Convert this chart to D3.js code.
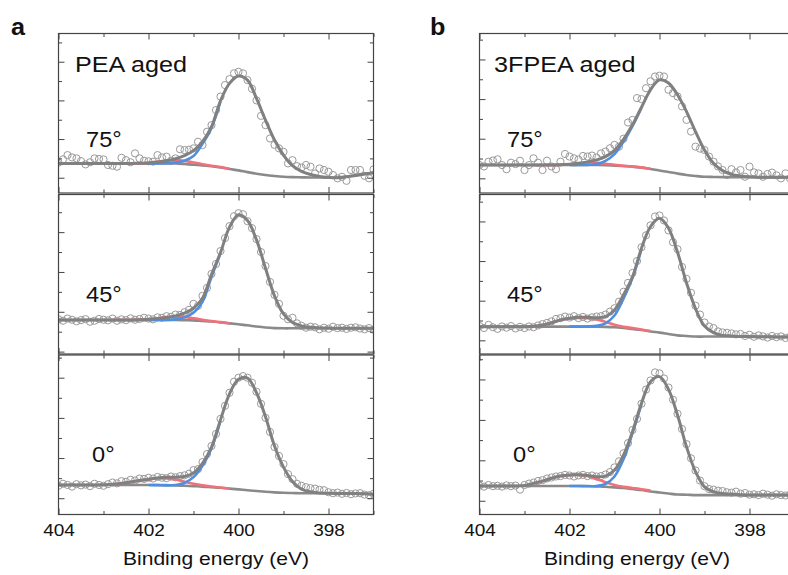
<!DOCTYPE html>
<html>
<head>
<meta charset="utf-8">
<script src="https://cdn.jsdelivr.net/npm/d3@7"></script>
<style>
  body { margin: 0; background: #fff; }
  svg { display: block; font-family: "Liberation Sans", Arial, sans-serif; }
</style>
</head>
<body>
<svg width="788" height="575"></svg>
<script>
// binding energies of the measured points (eV)
const ENERGY = [
  404.0,403.9,403.8,403.7,403.6,403.5,403.4,403.3,403.2,403.1,
  403.0,402.9,402.8,402.7,402.6,402.5,402.4,402.3,402.2,402.1,
  402.0,401.9,401.8,401.7,401.6,401.5,401.4,401.3,401.2,401.1,
  401.0,400.9,400.8,400.7,400.6,400.5,400.4,400.3,400.2,400.1,
  400.0,399.9,399.8,399.7,399.6,399.5,399.4,399.3,399.2,399.1,
  399.0,398.9,398.8,398.7,398.6,398.5,398.4,398.3,398.2,398.1,
  398.0,397.9,397.8,397.7,397.6,397.5,397.4,397.3,397.2,397.1,
  397.0];
// energies where the fitted envelope and background were read
const FIT_E = [404.0,403.8,403.6,403.4,403.2,403.0,402.8,402.6,402.4,402.2,402.0,401.8,
  401.6,401.4,401.2,401.0,400.8,400.6,400.4,400.2,400.0,399.8,399.6,399.4,399.2,399.0,
  398.8,398.6,398.4,398.2,398.0,397.8,397.6,397.4,397.2,397.0];
// energies of the visible parts of the two components
const RED_E = [402.8,402.6,402.4,402.2,402.0,401.8,401.6,401.4,401.2,401.0,400.8,400.6,400.4,400.2];
const BLUE_E = [402.0,401.8,401.6,401.4,401.2,401.0,400.8,400.6,400.4];

const X_MAJOR = [404, 402, 400, 398];
const X_MINOR = [403, 401, 399, 397];
const COLUMN_LETTERS = ["a", "b"];
const SAMPLE_NAMES = ["PEA aged", "3FPEA aged"];
const ANGLES = ["75°", "45°", "0°"];
const X_LABEL = "Binding energy (eV)";

// ---- PEA aged ----
const a75_data = [
  1.78,1.95,2.17,2.05,2.00,1.86,1.69,1.80,2.00,1.97,
  1.95,1.66,1.62,1.57,2.03,1.91,1.80,2.26,2.00,1.88,
  1.85,1.83,2.17,2.05,2.09,1.88,2.00,2.47,2.43,2.45,
  2.52,2.86,2.69,3.38,3.72,4.50,5.20,5.79,6.10,6.40,
  6.48,6.40,6.05,5.60,5.00,4.20,3.72,3.03,2.70,2.52,
  2.34,1.74,1.91,1.60,1.53,1.66,1.57,1.22,1.48,1.40,
  1.31,1.14,0.97,1.05,0.84,1.40,1.40,1.40,1.10,0.97,
  1.43];
const a75_fit = [1.74,1.74,1.74,1.74,1.74,1.74,1.74,1.74,1.74,1.75,1.76,1.81,1.88,1.98,2.14,2.40,2.86,3.64,
  4.98,5.88,6.26,6.05,5.10,3.98,2.95,2.17,1.62,1.33,1.17,1.07,1.02,1.00,1.05,1.12,1.19,1.26];
const a75_bg = [1.74,1.74,1.74,1.74,1.74,1.74,1.74,1.74,1.74,1.74,1.74,1.74,1.74,1.74,1.71,1.67,1.64,1.59,
  1.53,1.45,1.38,1.29,1.21,1.14,1.09,1.05,1.03,1.02,1.01,1.01,1.00,1.00,1.05,1.12,1.19,1.26];
const a75_red = [1.74,1.74,1.74,1.74,1.77,1.83,1.89,1.91,1.87,1.79,1.70,1.62,1.55,1.46];
const a75_blue = [1.74,1.74,1.75,1.78,1.88,2.12,2.75,3.58,4.93];

const a45_data = [
  1.62,1.55,1.66,1.60,1.52,1.58,1.63,1.50,1.55,1.64,
  1.60,1.57,1.66,1.55,1.62,1.58,1.67,1.60,1.64,1.70,
  1.66,1.62,1.72,1.70,1.78,1.75,1.86,1.84,1.98,2.10,
  2.40,2.30,2.80,3.20,3.90,4.40,5.05,5.70,6.30,6.80,
  6.95,6.90,6.55,6.20,5.65,5.00,4.30,3.50,2.85,2.40,
  1.80,1.62,1.70,1.42,1.30,1.20,1.25,1.22,1.12,1.20,
  1.15,1.25,1.18,1.20,1.14,1.20,1.22,1.16,1.12,1.18,
  1.10];
const a45_fit = [1.59,1.59,1.59,1.59,1.59,1.59,1.59,1.59,1.59,1.60,1.62,1.66,1.71,1.79,1.93,2.18,2.68,3.87,
  4.97,6.25,6.87,6.58,5.61,4.19,2.80,1.89,1.46,1.29,1.22,1.19,1.18,1.17,1.17,1.17,1.17,1.17];
const a45_bg = [1.59,1.59,1.59,1.59,1.59,1.59,1.59,1.59,1.59,1.59,1.59,1.59,1.59,1.59,1.58,1.57,1.54,1.51,
  1.47,1.42,1.37,1.32,1.26,1.21,1.18,1.17,1.17,1.17,1.17,1.17,1.17,1.17,1.17,1.17,1.17,1.17];
const a45_red = [1.59,1.59,1.59,1.60,1.62,1.67,1.73,1.76,1.73,1.67,1.60,1.53,1.48,1.42];
const a45_blue = [1.59,1.59,1.59,1.62,1.72,1.95,2.50,3.75,4.93];

const a0_data = [
  0.62,0.72,0.66,0.58,0.70,0.64,0.68,0.60,0.72,0.66,
  0.62,0.70,0.78,0.74,0.85,0.82,0.92,0.88,0.98,0.96,
  1.02,0.98,1.06,1.02,1.00,1.08,1.04,1.10,1.14,1.22,
  1.40,1.45,1.80,2.20,2.60,3.20,3.95,4.60,5.25,5.80,
  6.00,6.08,6.00,5.75,5.30,4.70,4.00,3.30,2.55,2.10,
  1.70,1.20,0.95,0.72,0.62,0.55,0.50,0.48,0.42,0.40,
  0.30,0.25,0.28,0.22,0.26,0.20,0.24,0.25,0.18,0.15,
  0.22];
const a0_fit = [0.66,0.66,0.66,0.66,0.66,0.67,0.69,0.74,0.81,0.88,0.95,1.01,1.04,1.05,1.08,1.26,1.74,2.55,
  3.90,5.20,5.92,5.98,5.25,4.06,2.60,1.55,0.83,0.45,0.32,0.26,0.25,0.24,0.24,0.23,0.22,0.20];
const a0_bg = [0.66,0.66,0.66,0.66,0.66,0.66,0.66,0.66,0.66,0.66,0.66,0.66,0.65,0.64,0.62,0.60,0.58,0.55,
  0.52,0.48,0.44,0.40,0.36,0.32,0.29,0.27,0.26,0.25,0.25,0.25,0.25,0.24,0.24,0.23,0.22,0.20];
const a0_red = [0.69,0.74,0.81,0.88,0.94,0.98,0.98,0.93,0.82,0.72,0.64,0.58,0.53,0.48];
const a0_blue = [0.66,0.65,0.64,0.66,0.76,1.05,1.62,2.48,3.85];

// ---- 3FPEA aged ----
const b75_data = [
  1.67,1.60,1.84,1.90,1.96,1.67,1.46,1.79,1.72,1.89,
  1.42,1.67,2.01,1.79,1.42,1.89,1.60,1.46,1.84,2.23,
  2.10,2.01,1.95,2.13,2.10,2.15,2.05,2.26,2.35,2.52,
  2.69,2.60,3.00,3.82,3.95,5.05,5.00,5.55,5.90,6.14,
  6.18,6.14,5.47,5.30,5.13,4.63,3.95,3.36,2.60,2.50,
  2.43,2.10,1.84,1.60,1.42,1.17,1.46,1.30,1.42,1.08,
  1.59,1.30,1.25,1.08,1.22,1.29,1.15,1.00,1.25,1.00,
  1.12];
const b75_fit = [1.67,1.67,1.67,1.67,1.67,1.67,1.67,1.67,1.67,1.69,1.71,1.76,1.83,1.93,2.10,2.40,2.97,3.70,
  4.59,5.47,5.97,5.81,5.22,4.37,3.36,2.43,1.76,1.39,1.20,1.12,1.08,1.06,1.05,1.05,1.05,1.05];
const b75_bg = [1.67,1.67,1.67,1.67,1.67,1.67,1.67,1.67,1.67,1.67,1.67,1.67,1.67,1.67,1.66,1.64,1.62,1.59,
  1.54,1.47,1.40,1.32,1.24,1.17,1.12,1.08,1.07,1.06,1.06,1.06,1.06,1.05,1.05,1.05,1.05,1.05];
const b75_red = [1.67,1.67,1.67,1.68,1.71,1.76,1.80,1.79,1.74,1.68,1.63,1.59,1.55,1.48];
const b75_blue = [1.67,1.67,1.68,1.72,1.88,2.22,2.85,3.64,4.55];

const b45_data = [
  0.72,0.62,0.78,0.66,0.58,0.70,0.64,0.72,0.60,0.68,
  0.62,0.70,0.66,0.75,0.82,0.88,0.96,1.08,1.12,1.20,
  1.15,1.22,1.12,1.18,1.10,1.16,1.20,1.22,1.30,1.45,
  1.62,1.95,2.45,2.90,3.40,4.00,4.70,5.30,5.80,6.25,
  6.30,6.05,5.55,4.95,4.60,3.70,3.10,2.40,1.75,1.30,
  0.90,0.70,0.62,0.45,0.40,0.38,0.35,0.30,0.32,0.22,
  0.28,0.18,0.25,0.20,0.14,0.22,0.16,0.20,0.12,0.18,
  0.15];
const b45_fit = [0.69,0.69,0.69,0.69,0.69,0.69,0.71,0.77,0.89,1.03,1.11,1.16,1.16,1.14,1.20,1.53,2.29,3.20,
  4.65,5.74,6.16,5.66,4.45,2.90,1.60,0.72,0.39,0.25,0.22,0.19,0.19,0.18,0.18,0.17,0.17,0.17];
const b45_bg = [0.69,0.69,0.69,0.69,0.69,0.69,0.69,0.69,0.69,0.69,0.69,0.69,0.69,0.69,0.68,0.66,0.62,0.57,
  0.52,0.45,0.39,0.32,0.25,0.22,0.19,0.19,0.19,0.19,0.19,0.19,0.19,0.18,0.18,0.17,0.17,0.17];
const b45_red = [0.69,0.77,0.89,1.03,1.10,1.13,1.12,1.05,0.93,0.79,0.68,0.62,0.55,0.47];
const b45_blue = [0.69,0.69,0.70,0.73,0.86,1.25,2.10,3.15,4.60];

const b0_data = [
  0.75,0.70,0.78,0.72,0.74,0.70,0.76,0.72,0.75,0.55,
  0.78,0.85,0.90,0.98,1.02,1.10,1.15,1.20,1.22,1.28,
  1.25,1.20,1.25,1.28,1.22,1.25,1.20,1.22,1.30,1.42,
  1.65,1.95,2.35,2.85,3.50,4.05,4.80,5.50,5.95,6.35,
  6.30,6.05,5.60,5.00,4.30,3.55,2.80,2.10,1.50,1.00,
  0.72,0.58,0.55,0.50,0.48,0.42,0.40,0.45,0.35,0.38,
  0.30,0.32,0.28,0.35,0.30,0.25,0.32,0.28,0.26,0.30,
  0.22];
const b0_fit = [0.73,0.73,0.73,0.73,0.73,0.76,0.86,0.97,1.11,1.22,1.27,1.29,1.25,1.19,1.22,1.52,2.26,3.42,
  4.82,5.89,6.14,5.51,4.24,2.67,1.44,0.69,0.45,0.36,0.33,0.30,0.28,0.28,0.28,0.28,0.28,0.28];
const b0_bg = [0.73,0.73,0.73,0.73,0.73,0.73,0.73,0.73,0.73,0.73,0.73,0.73,0.73,0.71,0.69,0.66,0.63,0.58,
  0.53,0.46,0.41,0.36,0.31,0.30,0.28,0.28,0.28,0.28,0.28,0.28,0.28,0.28,0.28,0.28,0.28,0.28];
const b0_red = [0.86,0.97,1.11,1.22,1.27,1.28,1.22,1.08,0.92,0.78,0.69,0.63,0.57,0.50];
const b0_blue = [0.73,0.73,0.72,0.73,0.83,1.20,2.05,3.35,4.78];

// intensity window of each panel (arbitrary units, ticks at whole units)
const PANELS = [
  {col: 0, row: 0, data: a75_data, fit: a75_fit, bg: a75_bg, red: a75_red, blue: a75_blue, yDomain: [0.21, 8.46]},
  {col: 0, row: 1, data: a45_data, fit: a45_fit, bg: a45_bg, red: a45_red, blue: a45_blue, yDomain: [-0.12, 7.89]},
  {col: 0, row: 2, data: a0_data, fit: a0_fit, bg: a0_bg, red: a0_red, blue: a0_blue, yDomain: [-0.81, 7.13]},
  {col: 1, row: 0, data: b75_data, fit: b75_fit, bg: b75_bg, red: b75_red, blue: b75_blue, yDomain: [0.26, 8.31]},
  {col: 1, row: 1, data: b45_data, fit: b45_fit, bg: b45_bg, red: b45_red, blue: b45_blue, yDomain: [-0.69, 7.36]},
  {col: 1, row: 2, data: b0_data, fit: b0_fit, bg: b0_bg, red: b0_red, blue: b0_blue, yDomain: [-0.68, 7.21]}
];

const PANEL_W = 315, PANEL_H = 159.5;
const COL_LEFT = [58.5, 479.5];
const ROW_TOP = [33.5, 194.5, 355];
const STRETCH = 1.12;   // the original lettering is a little wide

const svg = d3.select("svg");
const zip = (xs, ys) => xs.map((e, i) => [e, ys[i]]);

function addText(x, y, txt, size, opts = {}) {
  svg.append("text")
    .attr("transform", `translate(${x},${y}) scale(${opts.sx || STRETCH},1)`)
    .attr("font-size", size)
    .attr("font-weight", opts.bold ? "bold" : null)
    .attr("text-anchor", opts.anchor || "start")
    .attr("fill", "#111")
    .text(txt);
}

function styleAxis(g) {
  g.select(".domain").remove();
  g.selectAll("line").attr("stroke", "#444").attr("stroke-width", 1);
}

PANELS.forEach((p, i) => {
  const left = COL_LEFT[p.col], top = ROW_TOP[p.row];
  const x = d3.scaleLinear().domain([404, 397]).range([left, left + PANEL_W]);
  const y = d3.scaleLinear().domain(p.yDomain).range([top + PANEL_H, top]);

  svg.append("clipPath").attr("id", "clip" + i)
    .append("rect").attr("x", left).attr("y", top).attr("width", PANEL_W).attr("height", PANEL_H);

  const plot = svg.append("g").attr("clip-path", `url(#clip${i})`);

  plot.selectAll("circle")
    .data(zip(ENERGY, p.data))
    .join("circle")
      .attr("cx", d => x(d[0]))
      .attr("cy", d => y(d[1]))
      .attr("r", 3.6)
      .attr("fill", "none")
      .attr("stroke", "#9a9a9a")
      .attr("stroke-width", 1);

  const line = d3.line()
    .x(d => x(d[0]))
    .y(d => y(d[1]))
    .curve(d3.curveCatmullRom.alpha(0.5));

  plot.append("path").datum(zip(FIT_E, p.bg))
    .attr("d", line).attr("fill", "none").attr("stroke", "#8a8a8a").attr("stroke-width", 2.6);
  plot.append("path").datum(zip(RED_E, p.red))
    .attr("d", line).attr("fill", "none").attr("stroke", "#f27079").attr("stroke-width", 2.6);
  plot.append("path").datum(zip(BLUE_E, p.blue))
    .attr("d", line).attr("fill", "none").attr("stroke", "#4d8fe3").attr("stroke-width", 2.6);
  plot.append("path").datum(zip(FIT_E, p.fit))
    .attr("d", line).attr("fill", "none").attr("stroke", "#808080").attr("stroke-width", 3);

  // ticks, all pointing inwards
  const bottomRow = p.row === 2;
  const xb = svg.append("g").attr("transform", `translate(0,${top + PANEL_H})`)
    .call(d3.axisBottom(x).tickValues(X_MAJOR).tickSize(-6).tickPadding(9)
      .tickFormat(bottomRow ? d3.format("d") : () => ""));
  styleAxis(xb);
  xb.selectAll("text")
    .attr("font-family", '"Liberation Sans", Arial, sans-serif')
    .attr("font-size", 17).attr("fill", "#111")
    .attr("transform", `scale(${STRETCH},1)`);
  styleAxis(svg.append("g").attr("transform", `translate(0,${top + PANEL_H})`)
    .call(d3.axisBottom(x).tickValues(X_MINOR).tickSize(-3.5).tickFormat(() => "")));
  styleAxis(svg.append("g").attr("transform", `translate(0,${top})`)
    .call(d3.axisTop(x).tickValues(X_MAJOR).tickSize(-6).tickFormat(() => "")));
  styleAxis(svg.append("g").attr("transform", `translate(0,${top})`)
    .call(d3.axisTop(x).tickValues(X_MINOR).tickSize(-3.5).tickFormat(() => "")));

  const first = Math.ceil(p.yDomain[0]);
  const yTicks = d3.range(first, p.yDomain[1], 1);
  const yMajor = yTicks.filter(v => (v - first) % 2 === 0);
  const yMinor = yTicks.filter(v => (v - first) % 2 !== 0);
  [[yMajor, -6], [yMinor, -3.5]].forEach(([vals, len]) => {
    styleAxis(svg.append("g").attr("transform", `translate(${left},0)`)
      .call(d3.axisLeft(y).tickValues(vals).tickSize(len).tickFormat(() => "")));
    styleAxis(svg.append("g").attr("transform", `translate(${left + PANEL_W},0)`)
      .call(d3.axisRight(y).tickValues(vals).tickSize(len).tickFormat(() => "")));
  });

  svg.append("rect")
    .attr("x", left).attr("y", top).attr("width", PANEL_W).attr("height", PANEL_H)
    .attr("fill", "none").attr("stroke", "#444").attr("stroke-width", 1.2);
});

// panel letters, sample names, angles, axis titles
addText(11, 35, COLUMN_LETTERS[0], 24, {bold: true, sx: 1.05});
addText(430, 35, COLUMN_LETTERS[1], 24, {bold: true, sx: 1.05});
addText(75, 72, SAMPLE_NAMES[0], 22.5);
addText(494, 72, SAMPLE_NAMES[1], 22.5);

const ANGLE_POS = [[86, 147], [86, 302], [92, 462]];
[0, 1].forEach(c => {
  ANGLES.forEach((a, r) => {
    addText(ANGLE_POS[r][0] + COL_LEFT[c] - COL_LEFT[0], ANGLE_POS[r][1], a, 22.5, {sx: 1.05});
  });
  addText(COL_LEFT[c] + PANEL_W / 2, 565, X_LABEL, 18, {anchor: "middle", sx: 1.17});
});
</script>
</body>
</html>
